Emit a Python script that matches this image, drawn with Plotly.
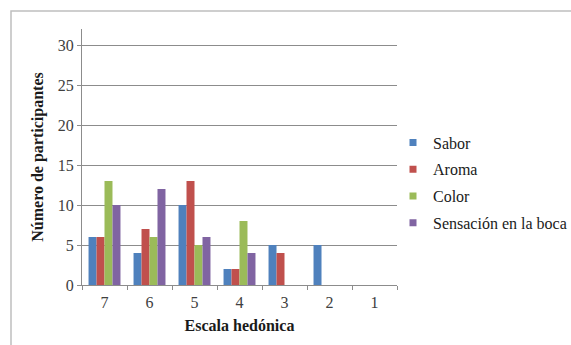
import plotly.graph_objects as go

categories = ["7", "6", "5", "4", "3", "2", "1"]
sabor = [6, 4, 10, 2, 5, 5, 0]
aroma = [6, 7, 13, 2, 4, 0, 0]
color = [13, 6, 5, 8, 0, 0, 0]
sensacion = [10, 12, 6, 4, 0, 0, 0]
series_names = ["Sabor", "Aroma", "Color", "Sensación en la boca"]
series_colors = ["#4F81BD", "#C0504D", "#9BBB59", "#8064A2"]

FONT = "Liberation Serif"

fig = go.Figure()
for name, vals, col in zip(series_names, [sabor, aroma, color, sensacion], series_colors):
    fig.add_trace(go.Bar(x=categories, y=vals, name=name, marker=dict(color=col, line=dict(width=0)),
                         showlegend=False))
    fig.add_trace(go.Scatter(x=[None], y=[None], mode="markers", name=name, legendgroup=name,
                             marker=dict(symbol="square", size=7, color=col)))

L, R, T, B = 82, 174, 29, 60
W, H = 571, 345
pw, ph = W - L - R, H - T - B

def px_x(x):
    return (x - L) / pw

def px_y(y):
    return (H - B - y) / ph

fig.update_layout(
    width=W, height=H,
    margin=dict(l=L, r=R, t=T, b=B, pad=0, autoexpand=False),
    paper_bgcolor="white", plot_bgcolor="white",
    barmode="group", bargap=0.29, bargroupgap=0,
    font=dict(family=FONT, size=16, color="#404040"),
    legend=dict(xref="container", yref="container", x=393 / W, y=(H - 183) / H,
                xanchor="left", yanchor="middle",
                font=dict(family=FONT, size=16, color="#1a1a1a"),
                traceorder="grouped", tracegroupgap=3, itemwidth=30,
                bgcolor="rgba(0,0,0,0)"),
    xaxis=dict(type="category", showline=True, linecolor="#8c8c8c", linewidth=1,
               ticks="outside", tickson="boundaries", ticklen=4, tickcolor="#8c8c8c",
               ticklabelstandoff=3,
               showgrid=False, tickfont=dict(family=FONT, size=16, color="#404040"),
               title=dict(text="<b>Escala hedónica</b>", font=dict(family=FONT, size=16, color="#1a1a1a"),
                          standoff=9)),
    yaxis=dict(range=[0, 32], tickvals=[0, 5, 10, 15, 20, 25, 30], showline=True,
               linecolor="#8c8c8c", linewidth=1, ticks="outside", ticklen=4, tickcolor="#8c8c8c",
               showgrid=True, gridcolor="#8c8c8c", gridwidth=1, zeroline=False,
               tickfont=dict(family=FONT, size=16, color="#404040"),
               title=dict(text="<b>Número de participantes</b>", font=dict(family=FONT, size=16, color="#1a1a1a"),
                          standoff=10)),
    shapes=[dict(type="rect", xref="paper", yref="paper",
                 x0=px_x(11), x1=px_x(580), y0=px_y(360), y1=px_y(11),
                 line=dict(color="#bfbfbf", width=1.5), fillcolor="rgba(0,0,0,0)", layer="below")],
)

fig.write_html("out.html")
